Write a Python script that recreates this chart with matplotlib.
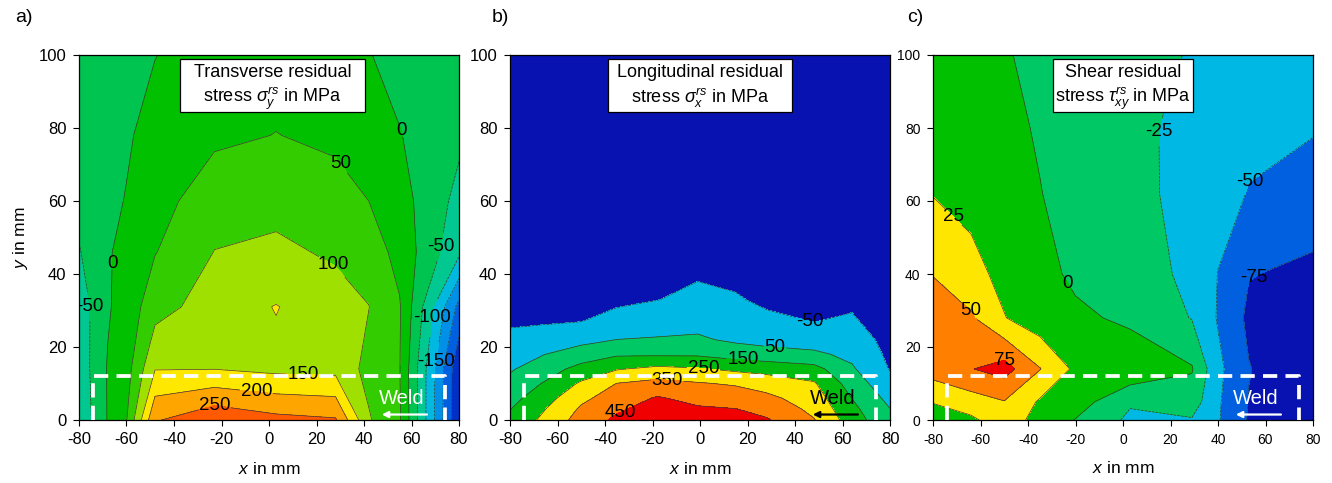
import numpy as np
import matplotlib.pyplot as plt
from matplotlib.patches import Rectangle

plt.rcParams['font.family'] = ['Liberation Sans', 'DejaVu Sans']
plt.rcParams['mathtext.fontset'] = 'custom'
plt.rcParams['mathtext.rm'] = 'Liberation Sans'
plt.rcParams['mathtext.it'] = 'Liberation Sans:italic'
plt.rcParams['axes.unicode_minus'] = False

#### a) transverse residual stress sigma_y (MPa) ###########################
xa = [-80, -74, -68, -60, -48, -23, 3, 28, 42, 55, 80]
ya = [0, 14, 31, 46, 60, 78, 100]
sig_y = [
    [-70, -47,   2,  48, 245, 290, 265, 255, 105,  55, -295],
    [-65, -45,   3,  30, 148, 149, 138, 135,  85,  52, -290],
    [-60, -47,  -5,  20,  80, 125, 152, 120, 101,  54, -215],
    [-52, -38,  -5,  15,  48, 101, 110,  93,  75,  35,  -90],
    [-40, -30, -10,   2,  30,  80,  85,  70,  50,  20,  -65],
    [-30, -25, -15,  -5,  15,  40,  51,  40,  25,   2,  -40],
    [-25, -20, -15,  -8,  -1,  20,  30,  20,   2, -15,  -30],
]
levels_a = [-300, -250, -200, -150, -100, -50, 0, 50, 100, 150, 200, 250, 300]
colors_a = ['#0030c8', '#0060e0', '#0090e8', '#00b8e0', '#00c890', '#00c450',
            '#00c000', '#33cc00', '#a0e000', '#ffe800', '#ffa500', '#ff5a00']

#### b) longitudinal residual stress sigma_x (MPa) ########################
xb = [-80, -66, -50, -35, -18, -1, 15, 28, 48, 64, 80]
yb = [0, 3, 6, 10, 14, 18, 22, 27, 33, 40, 100]
sig_x = [
    [170, 270, 390, 470, 530, 500, 490, 460, 355, 200, 70],
    [147, 242, 364, 434, 495, 463, 452, 418, 326, 175, 52],
    [117, 205, 328, 398, 459, 420, 406, 375, 298, 148, 21],
    [78, 155, 264, 352, 380, 358, 339, 306, 260, 106, -21],
    [39, 101, 183, 242, 274, 258, 230, 215, 185, 62, -55],
    [4, 47, 96, 137, 136, 136, 107, 88, 67, 28, -70],
    [-32, -4, 22, 51, 58, 64, 33, 18, 8, -3, -80],
    [-60, -60, -51, -24, 6, 19, -2, -36, -51, -40, -90],
    [-75, -75, -70, -65, -52, -26, -44, -62, -70, -65, -95],
    [-90, -90, -85, -80, -70, -60, -65, -80, -85, -85, -100],
    [-120, -120, -120, -120, -120, -120, -120, -120, -120, -120, -120],
]
levels_b = [-150, -50, 50, 150, 250, 350, 450, 550]
colors_b = ['#0712b0', '#00b8e4', '#00c864', '#00bb10', '#ffe600', '#ff8000', '#f00000']

#### c) shear residual stress tau_xy (MPa) ################################
xc = [-80, -64, -50, -35, -20, 3, 29, 40, 53, 80]
yc = [0, 5, 14, 28, 40, 62, 80, 100]
tau_xy = [
    [15, 20, 40, 15, -1, -30, -27, -48, -77, -95],
    [26, 39, 49, 22, 12, -22, -12, -47, -76, -95],
    [62, 74, 85, 51, 20, 21, 2, -44, -74, -95],
    [65, 53, 26, 10, 6, -6, -26, -52, -80, -92],
    [49, 33, 18, 10, -6, -10, -32, -50.5, -74, -80],
    [24, 17, 12, 1, -12, -15, -36, -42, -51, -62],
    [15, 10, 8, -3, -15, -18, -33, -42, -45, -48],
    [10, 5, 2, -6, -18, -14, -27, -38, -43, -42],
]
levels_c = [-100, -75, -50, -25, 0, 25, 50, 75, 100]
colors_c = ['#0712b0', '#0060e0', '#00b8e4', '#00c864', '#00c000', '#ffe600', '#ff8000', '#f00000']

# contour label spots (level, x, y)
labels_a = [(0, -64.8, 42.9), (0, 54.4, 79), (-50, -71.2, 31.5), (-50, 74.8, 47.2),
            (50, 28.6, 69.6), (100, 28.6, 44.2), (150, 14.4, 11.9), (200, -5.2, 8.7),
            (250, -22.7, 5), (-100, 69.9, 27.9), (-150, 69.9, 16)]
labels_b = [(-50, 44.9, 23.9), (50, 31.6, 20.3), (150, 18.2, 17.8), (250, 1.4, 13.5),
            (350, -14, 10), (450, -34.4, 3.2)]
labels_c = [(25, -70.2, 56.4), (50, -65.3, 29.2), (75, -48.8, 17.3), (0, -23.2, 37.4),
            (-25, 14.1, 79), (-50, 54, 64.8), (-75, 54, 40.2)]

titles = [("Transverse residual", "stress $\\sigma_{y}^{rs}$ in MPa"),
          ("Longitudinal residual", "stress $\\sigma_{x}^{rs}$ in MPa"),
          ("Shear residual", "stress $\\tau_{xy}^{rs}$ in MPa")]


def draw_panel(ax, x, y, z, levels, colors, labels, title, box_x, weld_col, tick_size):
    X, Y = np.meshgrid(x, y)
    Z = np.array(z, dtype=float)
    ax.contourf(X, Y, Z, levels=levels, colors=colors)
    # one line set per level, so each label can be put on its own level
    lines = {}
    for lev in levels:
        if Z.min() < lev < Z.max():
            lines[lev] = ax.contour(X, Y, Z, levels=[lev], colors='#3a3a3a', linewidths=0.5)
    for lev, lx, ly in labels:
        txts = ax.clabel(lines[lev], manual=[(lx, ly)], inline=True,
                         fmt='%d', fontsize=13.5, colors='k', inline_spacing=1)
        for t in txts:
            t.set_rotation(0)

    # weld zone
    ax.plot([-74, -74, 74, 74], [0, 12, 12, 0], color='white', lw=2.7,
            ls=(0, (3.8, 2.2)), zorder=5, clip_on=False)
    ax.text(56, 5.8, 'Weld', color=weld_col, fontsize=14.5, ha='center', va='center', zorder=6)
    ax.annotate('', xy=(47.5, 1.5), xytext=(66.5, 1.5),
                arrowprops=dict(arrowstyle='-|>', color=weld_col, lw=1.6,
                                mutation_scale=9, shrinkA=0, shrinkB=0), zorder=6)

    # title box
    x0, x1 = box_x
    ax.add_patch(Rectangle((x0, 0.844), x1 - x0, 0.145, transform=ax.transAxes,
                           fc='white', ec='black', lw=0.9, zorder=7))
    xm = (x0 + x1) / 2
    ax.text(xm, 0.953, title[0], transform=ax.transAxes, ha='center', va='center',
            fontsize=13, zorder=8)
    ax.text(xm, 0.881, title[1], transform=ax.transAxes, ha='center', va='center',
            fontsize=13, zorder=8)

    ax.set_xlim(-80, 80)
    ax.set_ylim(0, 100)
    ax.set_xticks(range(-80, 81, 20))
    ax.set_yticks(range(0, 101, 20))
    ax.tick_params(direction='out', length=4, width=0.8, labelsize=tick_size, pad=5)
    ax.set_xlabel('$x$ in mm', fontsize=12.5, labelpad=10)
    for s in ax.spines.values():
        s.set_linewidth(0.9)


fig = plt.figure(figsize=(13.32, 4.83), dpi=100)
ax1 = fig.add_axes([79 / 1332, 63 / 483, 380 / 1332, 365 / 483])
ax2 = fig.add_axes([510 / 1332, 63 / 483, 380 / 1332, 365 / 483])
ax3 = fig.add_axes([933 / 1332, 63 / 483, 380 / 1332, 365 / 483])

draw_panel(ax1, xa, ya, sig_y, levels_a, colors_a, labels_a, titles[0], (0.266, 0.753), 'white', 12)
draw_panel(ax2, xb, yb, sig_x, levels_b, colors_b, labels_b, titles[1], (0.258, 0.742), 'black', 12)
draw_panel(ax3, xc, yc, tau_xy, levels_c, colors_c, labels_c, titles[2], (0.316, 0.684), 'white', 10)
ax1.set_ylabel('$y$ in mm', fontsize=12.5, labelpad=6)

fig.text(15 / 1332, 1 - 17 / 483, 'a)', fontsize=14, va='center')
fig.text(492 / 1332, 1 - 17 / 483, 'b)', fontsize=14, va='center')
fig.text(907 / 1332, 1 - 17 / 483, 'c)', fontsize=14, va='center')

fig.savefig('out.png', dpi=100)
